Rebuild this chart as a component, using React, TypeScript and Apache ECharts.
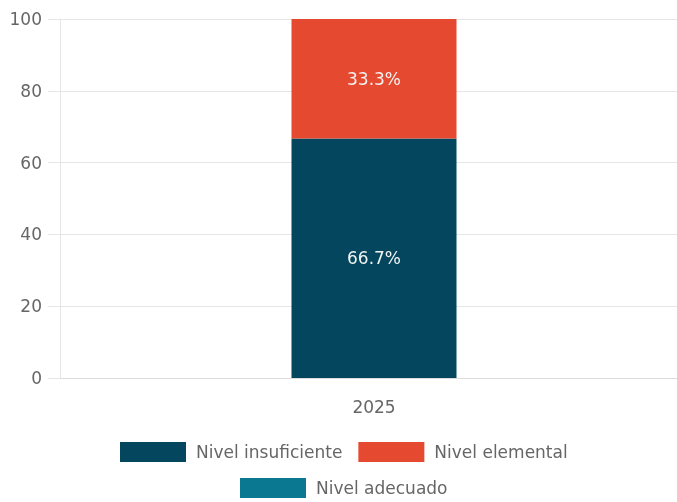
import React, { useEffect, useRef } from "react";
import * as echarts from "echarts";

const categories = ["2025"];
const seriesNames = ["Nivel insuficiente", "Nivel elemental", "Nivel adecuado"];
const insuficiente = [66.7];
const elemental = [33.3];
const adecuado = [0];
const colors = ["#03465e", "#e5492f", "#0b7891"];

export default function App() {
  const ref = useRef<HTMLDivElement>(null);
  useEffect(() => {
    if (!ref.current) return;
    const chart = echarts.init(ref.current, null, { renderer: "svg" });
    const font = "'DejaVu Sans', Verdana, sans-serif";
    const fs = 17;
    const values = [insuficiente, elemental, adecuado];
    const legendText = {
      fontSize: fs,
      color: "#666",
      fontFamily: font,
      lineHeight: 20,
      padding: [0, 0, 0, 5],
    };
    chart.setOption({
      animation: false,
      textStyle: { fontFamily: font },
      grid: { left: 60, top: 19, bottom: 124, right: -11, outerBoundsMode: "none", containLabel: false },
      legend: [
        {
          data: [seriesNames[0], seriesNames[1]],
          left: 120,
          top: 442,
          padding: 0,
          itemWidth: 66,
          itemHeight: 20,
          itemGap: 16,
          icon: "rect",
          textStyle: legendText,
        },
        {
          data: [seriesNames[2]],
          left: 240,
          top: 478,
          padding: 0,
          itemWidth: 66,
          itemHeight: 20,
          itemGap: 16,
          icon: "rect",
          textStyle: legendText,
        },
      ],
      xAxis: {
        type: "category",
        data: categories,
        axisLine: { show: true, lineStyle: { color: "#dcdcdc", width: 1 } },
        axisTick: { show: false },
        axisLabel: { fontSize: fs, color: "#666", margin: 20, fontFamily: font },
        splitLine: { show: false },
      },
      yAxis: {
        type: "value",
        min: 0,
        max: 100,
        interval: 20,
        axisLine: { show: true, lineStyle: { color: "#e6e6e6" } },
        axisTick: { show: true, length: 12, lineStyle: { color: "#e6e6e6" } },
        axisLabel: { fontSize: fs, color: "#666", margin: 18, fontFamily: font },
        splitLine: { show: true, lineStyle: { color: "#e6e6e6" } },
      },
      series: seriesNames.map((name, i) => ({
        name,
        type: "bar",
        stack: "total",
        data: values[i],
        barWidth: 165,
        itemStyle: { color: colors[i] },
        label: {
          show: true,
          position: "inside",
          color: "#f2f2f2",
          fontSize: fs,
          fontFamily: font,
          formatter: (p: any) => (p.value > 0 ? `${p.value}%` : ""),
        },
      })),
    });
    return () => chart.dispose();
  }, []);
  return (
    <div
      ref={ref}
      style={{ position: "fixed", left: 0, top: 0, width: 677, height: 502, overflow: "hidden" }}
    />
  );
}
